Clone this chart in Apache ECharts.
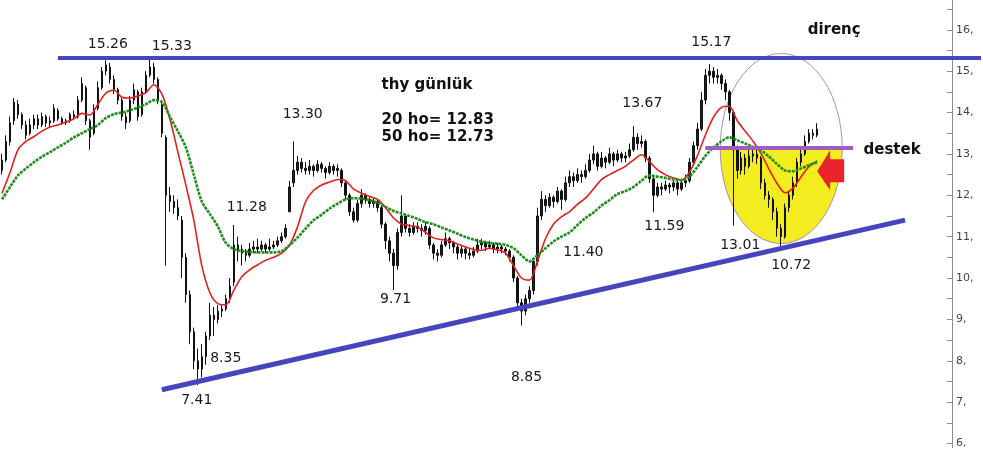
<!DOCTYPE html>
<html>
<head>
<meta charset="utf-8">
<script src="https://cdn.jsdelivr.net/npm/echarts@6/dist/echarts.min.js"></script>
<style>
html,body{margin:0;padding:0;background:#fff;}
#chart{width:983px;height:449px;}
</style>
</head>
<body>
<div id="chart"></div>
<script>
// ---- daily bars (index = trading day) ----
const opens = [
12.6,12.85,13.3,13.8,14.2,13.95,13.7,13.5,13.7,13.85,
13.7,13.9,13.75,13.8,14.05,13.85,13.75,13.8,13.95,13.9,
14.3,14.6,13.8,13.5,14.1,14.6,15.0,15.1,14.8,14.55,
14.3,13.9,13.8,14.3,14.5,13.95,14.5,14.9,15.1,14.8,
14.2,13.4,12.0,11.85,11.7,11.4,10.5,9.6,8.7,8.0,
7.8,8.1,8.6,9.1,9.0,9.2,9.25,9.5,9.9,10.8,
10.7,10.6,10.55,10.7,10.75,10.7,10.8,10.7,10.75,10.8,
10.9,11.0,11.6,12.3,12.6,12.8,12.65,12.6,12.7,12.6,
12.75,12.65,12.55,12.7,12.6,12.6,12.3,12.0,11.6,11.4,
11.8,12.0,11.9,11.8,11.85,11.7,11.3,10.9,10.6,10.3,
11.1,11.5,11.2,11.1,11.25,11.2,11.15,11.2,10.8,10.6,
10.55,10.8,10.95,10.85,10.75,10.6,10.7,10.6,10.55,10.65,
10.8,10.85,10.75,10.8,10.7,10.75,10.7,10.65,10.5,10.0,
9.4,9.2,9.5,9.7,10.4,11.5,11.9,11.75,11.95,11.85,
12.1,11.9,12.3,12.45,12.35,12.5,12.45,12.6,12.85,13.0,
12.7,12.9,12.8,13.0,12.85,13.0,12.9,12.95,13.1,13.4,
13.25,13.3,12.9,12.4,12.0,12.2,12.15,12.25,12.2,12.3,
12.15,12.3,12.35,12.8,13.2,13.6,14.3,14.9,15.0,14.85,
14.9,14.7,14.5,14.0,13.1,12.6,12.9,12.7,12.95,13.0,
12.9,12.3,12.0,11.9,11.6,11.2,11.0,11.7,12.0,12.3,
12.8,13.0,13.3,13.5,13.45
];
const closes = [
12.85,13.3,13.75,14.25,13.95,13.7,13.45,13.7,13.85,13.7,
13.9,13.75,13.8,14.1,13.85,13.75,13.8,13.95,13.9,14.3,
14.7,13.8,13.4,14.1,14.6,15.0,15.15,14.8,14.55,14.3,
13.9,13.75,14.3,14.55,13.9,14.5,14.9,15.1,14.8,14.3,
13.5,12.0,11.85,11.7,11.5,10.5,9.6,8.7,8.0,7.8,
8.1,8.6,9.1,9.0,9.2,9.25,9.5,9.8,10.8,10.7,
10.6,10.55,10.7,10.75,10.7,10.8,10.7,10.75,10.8,10.9,
11.0,11.2,12.2,12.6,12.8,12.65,12.6,12.7,12.6,12.75,
12.65,12.55,12.7,12.6,12.65,12.3,12.0,11.6,11.4,11.8,
12.0,11.9,11.8,11.85,11.7,11.3,10.9,10.6,10.3,11.1,
11.5,11.2,11.1,11.25,11.2,11.15,11.25,10.8,10.6,10.55,
10.8,10.95,10.85,10.75,10.6,10.7,10.6,10.55,10.65,10.8,
10.85,10.75,10.8,10.7,10.75,10.7,10.65,10.5,10.0,9.4,
9.2,9.5,9.7,10.4,11.5,11.9,11.75,11.95,11.85,12.1,
11.9,12.3,12.45,12.35,12.5,12.45,12.6,12.85,13.0,12.7,
12.9,12.8,13.0,12.85,13.0,12.9,12.95,13.1,13.4,13.25,
13.3,12.9,12.4,12.0,12.2,12.15,12.25,12.2,12.3,12.15,
12.3,12.35,12.8,13.2,13.6,14.3,14.9,15.0,14.85,14.9,
14.7,14.5,14.0,13.1,12.6,12.9,12.7,12.95,13.0,12.9,
12.3,12.0,11.9,11.6,11.2,11.0,11.7,12.0,12.3,12.8,
13.0,13.3,13.5,13.45,13.6
];
const lows = [
12.5,12.8,13.2,13.7,13.85,13.6,13.35,13.45,13.6,13.6,
13.65,13.65,13.65,13.75,13.8,13.7,13.7,13.75,13.85,13.85,
14.25,13.7,13.1,13.45,14.05,14.55,14.9,14.7,14.45,14.2,
13.8,13.6,13.75,14.2,13.8,13.9,14.45,14.85,14.7,14.2,
13.4,10.3,11.6,11.55,11.4,10.0,9.4,8.4,7.8,7.41,
7.6,7.9,8.5,8.6,8.9,9.05,9.2,9.4,9.8,10.4,
10.3,10.4,10.5,10.6,10.6,10.65,10.6,10.65,10.7,10.75,
10.85,10.95,11.6,12.2,12.5,12.55,12.5,12.5,12.45,12.55,
12.55,12.4,12.5,12.5,12.45,12.2,11.9,11.5,11.34,11.35,
11.7,11.8,11.7,11.7,11.6,11.2,10.7,10.4,9.71,10.2,
11.0,11.1,11.0,11.05,11.1,11.0,11.05,10.7,10.45,10.4,
10.5,10.75,10.7,10.6,10.45,10.5,10.45,10.45,10.5,10.6,
10.7,10.65,10.7,10.6,10.6,10.6,10.55,10.4,9.9,9.2,
8.85,9.1,9.4,9.6,10.3,11.4,11.6,11.7,11.7,11.8,
11.65,11.85,12.2,12.2,12.3,12.3,12.4,12.55,12.75,12.6,
12.65,12.65,12.75,12.7,12.8,12.8,12.8,12.9,13.05,13.1,
13.15,12.8,12.3,11.59,11.95,12.0,12.1,12.05,12.1,12.0,
12.1,12.2,12.3,12.75,13.1,13.55,14.2,14.7,14.7,14.7,
14.55,14.3,13.8,11.27,12.4,12.5,12.5,12.65,12.8,12.75,
12.15,11.9,11.7,11.4,11.0,10.72,10.95,11.6,11.9,12.2,
12.7,12.95,13.25,13.35,13.4
];
const highs = [
13.0,13.45,13.9,14.35,14.3,14.0,13.8,13.85,13.95,13.95,
14.0,13.95,13.9,14.2,14.1,13.9,13.85,14.0,14.05,14.4,
14.85,14.65,13.85,14.2,14.75,15.1,15.26,15.2,14.9,14.6,
14.35,14.0,14.4,14.7,14.55,14.6,15.0,15.33,15.2,14.85,
14.3,13.45,12.2,12.0,11.9,11.5,10.6,9.7,8.8,8.3,
8.4,8.7,9.4,9.3,9.35,9.35,9.6,10.0,11.28,11.0,
10.8,10.7,10.85,10.9,10.95,10.9,10.85,10.95,10.9,11.0,
11.1,11.3,12.35,13.3,12.95,12.9,12.8,12.85,12.75,12.85,
12.8,12.7,12.8,12.75,12.75,12.65,12.35,12.05,11.7,11.9,
12.15,12.05,11.95,11.95,11.9,11.75,11.35,11.0,10.7,11.2,
12.0,11.55,11.3,11.35,11.35,11.3,11.35,11.25,10.85,10.7,
10.9,11.1,11.0,10.9,10.8,10.8,10.75,10.7,10.75,10.95,
10.95,10.9,10.9,10.85,10.85,10.8,10.75,10.7,10.55,10.05,
9.5,9.6,9.8,10.5,11.7,12.1,12.0,12.05,12.0,12.2,
12.15,12.45,12.6,12.55,12.65,12.6,12.75,13.0,13.2,13.05,
13.05,12.95,13.15,13.05,13.1,13.05,13.05,13.25,13.67,13.5,
13.45,13.35,12.95,12.45,12.3,12.3,12.35,12.3,12.4,12.35,
12.4,12.5,12.9,13.3,13.75,14.5,15.05,15.17,15.1,15.05,
14.95,14.8,14.55,14.05,13.2,13.05,13.0,13.1,13.1,13.1,
12.95,12.4,12.1,11.95,11.7,11.3,11.8,12.1,12.45,12.9,
13.15,13.45,13.6,13.6,13.74
];
// moving averages read every 2nd bar
const maStep = 2;
const ma20 = [
12.05,12.55,13.1,13.3,13.42,13.55,13.65,13.7,13.77,13.85,
13.98,13.94,14.2,14.47,14.54,14.37,14.35,14.4,14.48,14.67,
14.45,13.85,13.05,12.25,11.4,10.3,9.65,9.38,9.35,9.7,
10.03,10.2,10.32,10.43,10.5,10.6,10.8,11.25,11.85,12.12,
12.25,12.32,12.38,12.35,12.15,12.05,11.97,11.9,11.7,11.45,
11.3,11.27,11.23,11.1,10.97,10.93,10.9,10.82,10.75,10.69,
10.67,10.72,10.68,10.6,10.3,10.0,9.95,10.4,10.95,11.3,
11.48,11.6,11.78,11.93,12.15,12.38,12.5,12.6,12.7,12.85,
12.98,12.82,12.62,12.5,12.42,12.37,12.55,12.95,13.45,13.88,
14.12,14.15,13.8,13.55,13.3,13.0,12.62,12.28,12.06,12.18,
12.45,12.7,12.83
];
const ma50 = [
11.9,12.2,12.48,12.65,12.8,12.93,13.04,13.16,13.27,13.4,
13.5,13.6,13.7,13.87,13.96,14.0,14.05,14.12,14.2,14.3,
14.25,13.9,13.55,13.16,12.5,11.85,11.55,11.25,10.85,10.7,
10.65,10.63,10.62,10.62,10.62,10.65,10.8,10.98,11.2,11.4,
11.53,11.68,11.8,11.9,11.93,11.92,11.88,11.82,11.72,11.62,
11.56,11.5,11.43,11.35,11.3,11.22,11.15,11.07,10.99,10.93,
10.88,10.85,10.83,10.8,10.72,10.55,10.4,10.55,10.72,10.88,
11.0,11.1,11.28,11.45,11.58,11.75,11.88,12.03,12.1,12.2,
12.35,12.48,12.45,12.42,12.38,12.36,12.45,12.68,12.95,13.15,
13.3,13.4,13.33,13.25,13.17,13.08,12.93,12.75,12.6,12.58,
12.65,12.73,12.8
];
const totalSlots = 246;
const yLabelValues = [6,7,8,9,10,11,12,13,14,15,16];
const yTickValues = [6,6.5,7,7.5,8,8.5,9,9.5,10,10.5,11,11.5,12,12.5,13,13.5,14,14.5,15,15.5,16,16.5];
const yMin = 5.9, yMax = 16.72;
const resistance = 15.33;
const support = 13.16;
const trendStart = [40, 7.30];
const trendEnd = [226, 11.40];
const priceNotes = [
  ['15.26', 26.5, 15.64], ['15.33', 42.5, 15.61], ['15.17', 177.5, 15.69],
  ['13.30', 75.25, 13.95], ['11.28', 61.25, 11.71], ['9.71', 98.5, 9.49],
  ['8.35', 56, 8.05], ['7.41', 48.75, 7.04], ['8.85', 131.25, 7.59],
  ['11.40', 145.5, 10.63], ['11.59', 165.75, 11.25], ['13.67', 160.25, 14.22],
  ['13.01', 184.75, 10.80], ['10.72', 197.5, 10.31]
];
const boldNotes = [
  ['thy günlük', 95, 14.67, 'left'],
  ['20 ho= 12.83', 95, 13.81, 'left'],
  ['50 ho= 12.73', 95, 13.40, 'left'],
  ['direnç', 208.25, 16.0, 'center'],
  ['destek', 222.75, 13.08, 'center']
];

const cats = Array.from({length: totalSlots}, (_, i) => String(i));
const ohlc = opens.map((o, i) => [o, closes[i], lows[i], highs[i]]);
const ma20Data = ma20.map((v, k) => [k * maStep, v]);
const ma50Data = ma50.map((v, k) => [k * maStep, v]);

const chart = echarts.init(document.getElementById('chart'), null, {renderer: 'canvas'});
chart.setOption({
  animation: false,
  backgroundColor: '#ffffff',
  grid: {left: 0, right: 0, top: 0, bottom: 0, containLabel: false},
  xAxis: {type: 'category', data: cats, boundaryGap: true, show: false},
  yAxis: {
    type: 'value', position: 'right', offset: -31,
    min: yMin, max: yMax,
    axisLine: {show: true, lineStyle: {color: '#8a8a8a', width: 1}},
    axisTick: {show: true, inside: true, length: 5, customValues: yTickValues, lineStyle: {color: '#8a8a8a'}},
    axisLabel: {
      show: true, margin: 4, color: '#444', fontSize: 11, fontFamily: 'DejaVu Sans',
      customValues: yLabelValues,
      formatter: v => v + ','
    },
    splitLine: {show: false}
  },
  series: [
    {
      type: 'candlestick', data: ohlc, barWidth: 2,
      itemStyle: {color: '#222222', color0: '#111111', borderColor: '#111111', borderColor0: '#111111', borderWidth: 1},
      markLine: {
        silent: true, symbol: ['none', 'none'], animation: false,
        label: {show: false},
        data: [
          [{coord: [14, resistance], lineStyle: {color: '#4545bd', width: 4, type: 'solid'}}, {coord: [245, resistance]}],
          [{coord: trendStart, lineStyle: {color: '#4545bd', width: 5, type: 'solid'}}, {coord: trendEnd}],
          [{coord: [176, support], lineStyle: {color: '#a05cc2', width: 4, type: 'solid'}}, {coord: [213, support]}]
        ]
      }
    },
    {type: 'line', data: ma20Data, symbol: 'none', smooth: 0.3, lineStyle: {color: '#e3201e', width: 1.6}, z: 3},
    {type: 'line', data: ma50Data, symbol: 'none', smooth: 0.3, lineStyle: {color: '#1f8f1f', width: 2.6, type: [3, 1]}, z: 3}
  ]
});

function px(idx, v) {
  const i0 = Math.floor(idx), f = idx - i0;
  const a = chart.convertToPixel({gridIndex: 0}, [i0, v]);
  const b = chart.convertToPixel({gridIndex: 0}, [i0 + 1, v]);
  return [a[0] + (b[0] - a[0]) * f, a[1]];
}

const graphics = [];
// circle annotation
const c = px(195, 13.13);
const rx = 61, ry = 95;
const half = [];
for (let k = 0; k <= 48; k++) {
  const t = Math.PI * k / 48;
  half.push([c[0] + rx * Math.cos(t), c[1] + ry * Math.sin(t)]);
}
graphics.push({type: 'polygon', shape: {points: half}, style: {fill: '#f3ec1e', stroke: 'none'}, z: 0});
graphics.push({type: 'ellipse', shape: {cx: c[0], cy: c[1], rx: rx, ry: ry}, style: {fill: 'none', stroke: '#a88fb4', lineWidth: 1}, z: 1});
// arrow
const a = px(204, 12.58);
const arrowPts = [[0,0],[13,-21],[13,-12],[27,-12],[27,11],[13,11],[13,19]].map(p => [a[0] + p[0], a[1] + p[1]]);
graphics.push({type: 'polygon', shape: {points: arrowPts}, style: {fill: '#e8232a'}, z: 1});
// texts
priceNotes.forEach(n => {
  const p = px(n[1], n[2]);
  graphics.push({type: 'text', z: 10, style: {text: n[0], x: p[0], y: p[1], font: '14px "DejaVu Sans"', fill: '#1a1a1a', textAlign: 'center', align: 'center', textVerticalAlign: 'middle', verticalAlign: 'middle'}});
});
boldNotes.forEach(n => {
  const p = px(n[1], n[2]);
  graphics.push({type: 'text', z: 10, style: {text: n[0], x: p[0], y: p[1], font: 'bold 15px "DejaVu Sans"', fill: '#111', textAlign: n[3], align: n[3], textVerticalAlign: 'middle', verticalAlign: 'middle'}});
});
chart.setOption({graphic: graphics});
</script>
</body>
</html>
